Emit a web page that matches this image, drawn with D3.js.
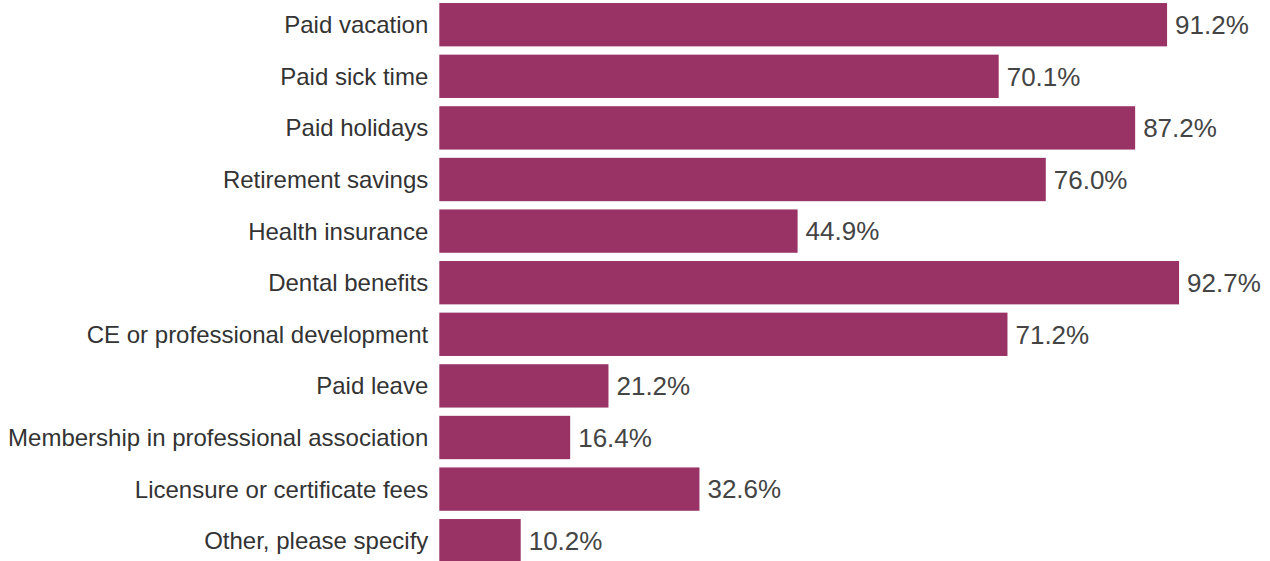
<!DOCTYPE html>
<html><head><meta charset="utf-8">
<script src="https://cdn.jsdelivr.net/npm/d3@7"></script>
<style>body{margin:0;background:#fff}svg{display:block}</style>
</head><body>
<svg id="c" width="1270" height="561"></svg>
<script>
const categories = ["Paid vacation","Paid sick time","Paid holidays","Retirement savings","Health insurance","Dental benefits","CE or professional development","Paid leave","Membership in professional association","Licensure or certificate fees","Other, please specify"];
const values = [91.2,70.1,87.2,76.0,44.9,92.7,71.2,21.2,16.4,32.6,10.2];
const valueLabels = ["91.2%","70.1%","87.2%","76.0%","44.9%","92.7%","71.2%","21.2%","16.4%","32.6%","10.2%"];

const svg = d3.select("#c");
const x = d3.scaleLinear().domain([0,100]).range([439.3,1237.3]);
const y = d3.scaleBand().domain(categories).range([-1.1,566.5]).paddingInner(0.16).paddingOuter(0.08);

svg.selectAll("rect.bar").data(categories).join("rect")
  .attr("class","bar")
  .attr("x",x(0)).attr("y",d=>y(d))
  .attr("width",(d,i)=>x(values[i])-x(0))
  .attr("height",y.bandwidth())
  .attr("fill","#993366");

svg.selectAll("text.cat").data(categories).join("text")
  .attr("class","cat")
  .attr("x",x(0)-11).attr("y",d=>y(d)+y.bandwidth()/2)
  .attr("dy","0.35em").attr("text-anchor","end")
  .attr("font-family","'Liberation Sans', Arial, sans-serif")
  .attr("font-size",24).attr("fill","#333")
  .text(d=>d);

svg.selectAll("text.val").data(categories).join("text")
  .attr("class","val")
  .attr("x",(d,i)=>x(values[i])+8).attr("y",d=>y(d)+y.bandwidth()/2)
  .attr("dy","0.36em").attr("text-anchor","start")
  .attr("font-family","'Liberation Sans', Arial, sans-serif")
  .attr("font-size",26).attr("fill","#444")
  .text((d,i)=>valueLabels[i]);
</script>
</body></html>
